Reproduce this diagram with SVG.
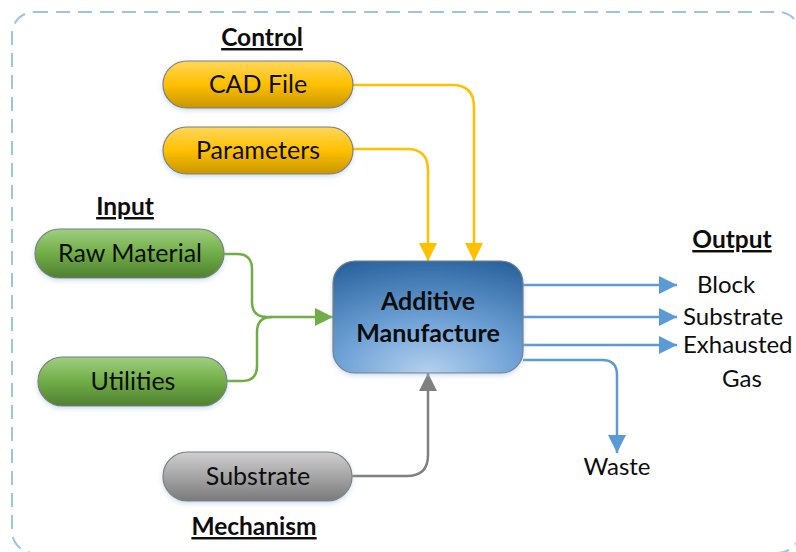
<svg xmlns="http://www.w3.org/2000/svg" width="796" height="552" viewBox="0 0 796 552">
  <style>
    text { font-family: Lato, "Liberation Sans", sans-serif; fill: #0d0d0d; }
    .lbl { font-size: 25px; text-anchor: middle; }
    .head { font-size: 24.5px; font-weight: bold; text-anchor: middle; text-decoration: underline; }
    .core { font-size: 25px; font-weight: bold; text-anchor: middle; }
    .out { font-size: 24px; }
    .pill { stroke: #7f7f7f; stroke-width: 1.2; filter: url(#glow); }
    .c-y { fill: none; stroke: #ffc000; stroke-width: 2.5; }
    .c-g { fill: none; stroke: #70ad47; stroke-width: 2.5; }
    .c-k { fill: none; stroke: #808080; stroke-width: 2.5; }
    .c-b { fill: none; stroke: #5b9bd5; stroke-width: 2.5; }
  </style>
  <defs>
    <linearGradient id="gY" x1="0" y1="0" x2="0" y2="1">
      <stop offset="0" stop-color="#ffd65c"/>
      <stop offset="0.5" stop-color="#ffc000"/>
      <stop offset="1" stop-color="#c89600"/>
    </linearGradient>
    <linearGradient id="gG" x1="0" y1="0" x2="0" y2="1">
      <stop offset="0" stop-color="#9fcf80"/>
      <stop offset="0.5" stop-color="#70ad47"/>
      <stop offset="1" stop-color="#4f8030"/>
    </linearGradient>
    <linearGradient id="gK" x1="0" y1="0" x2="0" y2="1">
      <stop offset="0" stop-color="#cfcfcf"/>
      <stop offset="0.5" stop-color="#a5a5a5"/>
      <stop offset="1" stop-color="#7a7a7a"/>
    </linearGradient>
    <radialGradient id="gB" cx="0.5" cy="1" r="1.05" fx="0.5" fy="1">
      <stop offset="0" stop-color="#b4d1ee"/>
      <stop offset="0.45" stop-color="#6fa2d6"/>
      <stop offset="1" stop-color="#2b649f"/>
    </radialGradient>
    <filter id="glow" x="-20%" y="-30%" width="140%" height="170%">
      <feDropShadow dx="0" dy="2" stdDeviation="2.5" flood-color="#9dc3e6" flood-opacity="0.55"/>
    </filter>
    <marker id="aY" viewBox="0 0 10 10" refX="10" refY="5" markerWidth="7.2" markerHeight="7.2" markerUnits="strokeWidth" orient="auto">
      <path d="M0,0 L10,5 L0,10 Z" fill="#ffc000"/>
    </marker>
    <marker id="aG" viewBox="0 0 10 10" refX="10" refY="5" markerWidth="7.2" markerHeight="7.2" markerUnits="strokeWidth" orient="auto">
      <path d="M0,0 L10,5 L0,10 Z" fill="#70ad47"/>
    </marker>
    <marker id="aK" viewBox="0 0 10 10" refX="10" refY="5" markerWidth="7.2" markerHeight="7.2" markerUnits="strokeWidth" orient="auto">
      <path d="M0,0 L10,5 L0,10 Z" fill="#808080"/>
    </marker>
    <marker id="aB" viewBox="0 0 10 10" refX="10" refY="5" markerWidth="7.2" markerHeight="7.2" markerUnits="strokeWidth" orient="auto">
      <path d="M0,0 L10,5 L0,10 Z" fill="#5b9bd5"/>
    </marker>
  </defs>

  <!-- dashed frame -->
  <rect x="12" y="12" width="788" height="541" rx="22" fill="none" stroke="#9dc3e6" stroke-width="2" stroke-dasharray="14 8"/>

  <!-- section headings -->
  <text class="head" x="262" y="46">Control</text>
  <text class="head" x="125" y="215">Input</text>
  <text class="head" x="732" y="248">Output</text>
  <text class="head" x="254" y="535">Mechanism</text>

  <!-- connectors -->
  <g id="connectors">
    <path class="c-y" d="M353,85 H452 Q474,85 474,107 V261" marker-end="url(#aY)"/>
    <path class="c-y" d="M353,149 H407 Q428,149 428,170 V261" marker-end="url(#aY)"/>
    <path class="c-g" d="M224,254 H237 Q252,254 252,269 V302 Q252,317 267,317 H333" marker-end="url(#aG)"/>
    <path class="c-g" d="M227,381 H242 Q257,381 257,366 V332 Q257,317 272,317"/>
    <path class="c-k" d="M352,476 H407 Q428,476 428,455 V373" marker-end="url(#aK)"/>
    <path class="c-b" d="M523,285 H677" marker-end="url(#aB)"/>
    <path class="c-b" d="M523,317 H677" marker-end="url(#aB)"/>
    <path class="c-b" d="M523,345 H677" marker-end="url(#aB)"/>
    <path class="c-b" d="M523,360 H602 Q617,360 617,375 V453" marker-end="url(#aB)"/>
  </g>

  <g id="cad-file">
    <rect class="pill" x="163" y="61" width="190" height="47" rx="23.5" fill="url(#gY)"/>
    <text class="lbl" x="258" y="93">CAD File</text>
  </g>
  <g id="parameters">
    <rect class="pill" x="163" y="127" width="190" height="47" rx="23.5" fill="url(#gY)"/>
    <text class="lbl" x="258" y="159">Parameters</text>
  </g>
  <g id="raw-material">
    <rect class="pill" x="35" y="229" width="189" height="49" rx="24.5" fill="url(#gG)"/>
    <text class="lbl" x="130" y="262">Raw Material</text>
  </g>
  <g id="utilities">
    <rect class="pill" x="38" y="357" width="189" height="49" rx="24.5" fill="url(#gG)"/>
    <text class="lbl" x="133" y="390">Utilities</text>
  </g>
  <g id="substrate-in">
    <rect class="pill" x="163" y="452" width="189" height="49" rx="24.5" fill="url(#gK)"/>
    <text class="lbl" x="258" y="485">Substrate</text>
  </g>
  <g id="additive-manufacture">
    <rect class="pill" x="333" y="261" width="190" height="112" rx="22" fill="url(#gB)"/>
    <text class="core" x="428" y="310">Additive</text>
    <text class="core" x="428" y="342">Manufacture</text>
  </g>

  <!-- output labels -->
  <g id="outputs">
    <text class="out" x="697" y="293">Block</text>
    <text class="out" x="683" y="325">Substrate</text>
    <text class="out" x="683" y="353">Exhausted</text>
    <text class="out" x="722" y="387">Gas</text>
    <text class="out" x="617" y="475" text-anchor="middle">Waste</text>
  </g>
</svg>
